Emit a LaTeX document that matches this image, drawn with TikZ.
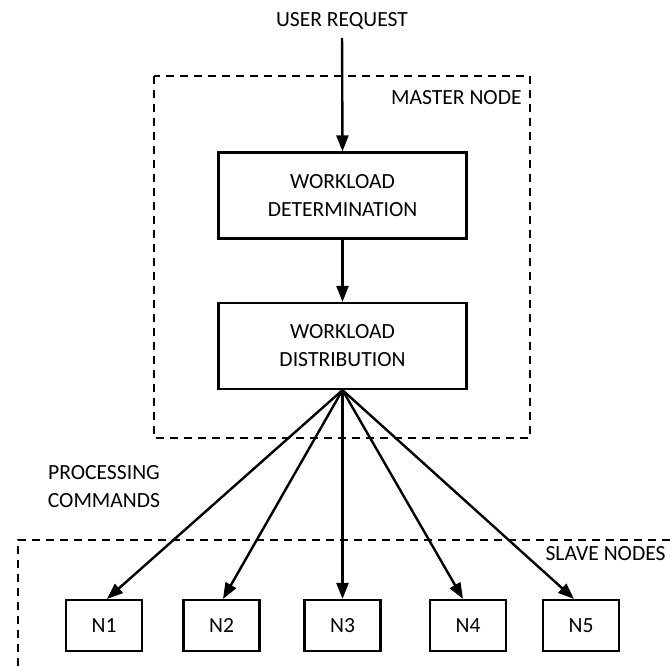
\documentclass[tikz,border=0pt]{standalone}
\usepackage{fontspec}
\setmainfont{Carlito}
\usepackage{tikz}
\usetikzlibrary{
  arrows.meta,
  positioning
}
\tikzset{
  mnode/.style={
    draw, line width=1.1pt, minimum width=124pt, minimum height=43pt,
    align=center, inner sep=2pt
  },
  snode/.style={mnode, minimum width=38pt, minimum height=25.5pt},
  zone/.style={draw, line width=1.1pt, dash pattern=on 4pt off 3pt},
  zonetag/.style={anchor=east, inner sep=0pt},
  cmd/.style={-{Triangle[length=8pt, width=6pt]}, line width=1.2pt},
  tag/.style={align=center, inner sep=1pt}
}

\begin{document}
\begin{tikzpicture}[x=0.5pt, y=-0.5pt, font=\fontsize{10.8}{14}\selectfont]
  \useasboundingbox (0,0) rectangle (672,670);
  % master side
  \draw[zone] (154,76) rectangle (530,438);
  \node[zonetag] (mtag) at (522,98) {MASTER NODE};
  \node[tag] (req) at (342,21) {USER REQUEST};
  \node[mnode] (det) at (342.5,195.5) {WORKLOAD\\DETERMINATION};
  \node[mnode] (dist) at (342.5,346) {WORKLOAD\\DISTRIBUTION};
  \draw[cmd, shorten <=3pt] (req.south) -- (det.north);
  \draw[cmd] (det.south) -- (dist.north);
  % slave side
  \draw[zone] (18,680) -- (18,540) -- (690,540);
  \node[zonetag] (stag) at (666,554) {SLAVE NODES};
  \node[tag] (proc) at (104,487) {PROCESSING\\COMMANDS};
  \node[snode] (n1) at (104,625.5) {N1};
  \node[snode] (n2) at (221.5,625.5) {N2};
  \node[snode] (n3) at (342.5,625.5) {N3};
  \node[snode] (n4) at (468,625.5) {N4};
  \node[snode] (n5) at (581,625.5) {N5};
  \draw[cmd] (dist.south) -- ([xshift=1.5pt]n1.north);
  \draw[cmd] (dist.south) -- ([xshift=0.75pt]n2.north);
  \draw[cmd] (dist.south) -- (n3.north);
  \draw[cmd] (dist.south) -- ([xshift=-2.5pt]n4.north);
  \draw[cmd] (dist.south) -- ([xshift=-3.5pt]n5.north);
\end{tikzpicture}
\end{document}
